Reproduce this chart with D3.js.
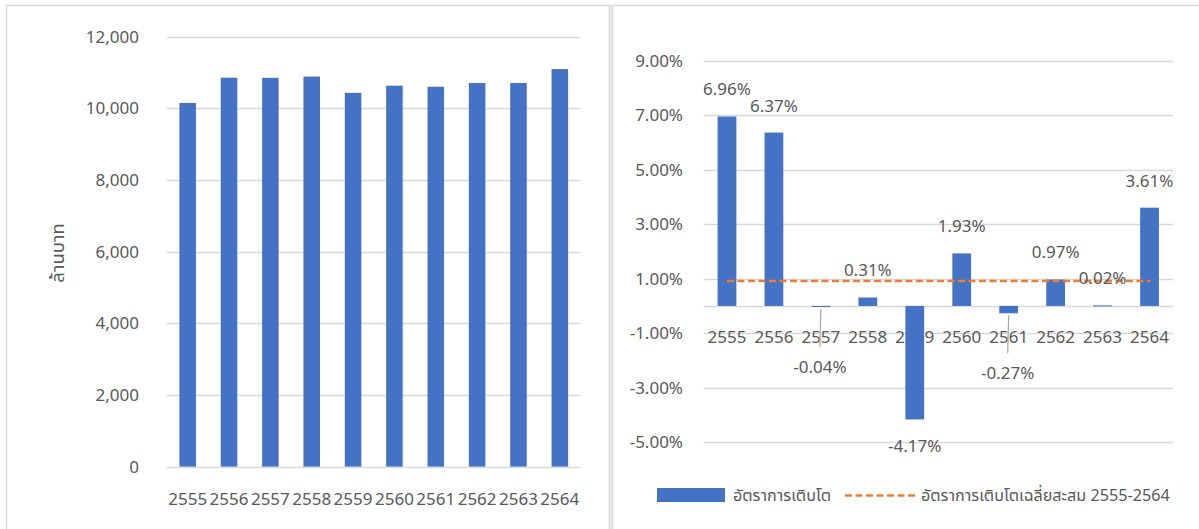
<!DOCTYPE html>
<html>
<head>
<meta charset="utf-8">
<script src="https://cdn.jsdelivr.net/npm/d3@7/dist/d3.min.js"></script>
<style>
  html, body { margin: 0; padding: 0; background: #ffffff; }
  svg { display: block; }
  text { font-family: "Noto Sans Thai", "Liberation Sans", "DejaVu Sans", sans-serif; fill: #595959; }
</style>
</head>
<body>
<svg id="chart" width="1199" height="529"></svg>
<script>
// Fiscal years (Buddhist era)
const years = ["2555", "2556", "2557", "2558", "2559", "2560", "2561", "2562", "2563", "2564"];
// Annual amount, million baht
const amounts = [10150, 10856, 10852, 10886, 10432, 10633, 10604, 10707, 10709, 11096];
// Year-on-year growth, percent
const growth = [6.96, 6.37, -0.04, 0.31, -4.17, 1.93, -0.27, 0.97, 0.02, 3.61];
// Compound average growth 2555-2564, percent
const avgGrowth = 0.92;
// Axis ticks
const amountTicks = [0, 2000, 4000, 6000, 8000, 10000, 12000];
const growthTicks = [-5, -3, -1, 1, 3, 5, 7, 9];
// Labels
const amountAxisTitle = "ล้านบาท";
const legendLabels = ["อัตราการเติบโต", "อัตราการเติบโตเฉลี่ยสะสม 2555-2564"];

const BLUE = "#4472C4", ORANGE = "#ED7D31", GRID = "#D9D9D9", TEXT = "#595959";
const FS = 17;

const svg = d3.select("#chart");

// Panel frames
svg.append("rect").attr("x", 0).attr("y", 0).attr("width", 1199).attr("height", 529).attr("fill", "#fff");
svg.append("rect").attr("x", 610).attr("y", 5).attr("width", 3).attr("height", 524).attr("fill", "#EFEFEF");
svg.append("path")
  .attr("d", "M6.5,529 V5.5 H609.5 V529 M612.5,529 V5.5 H1199")
  .attr("fill", "none").attr("stroke", GRID).attr("stroke-width", 1.5);

// ---------- Left: amounts ----------
const xL = d3.scaleBand().domain(years).range([167, 580.5]).paddingInner(0.6).paddingOuter(0.3);
const yL = d3.scaleLinear().domain([0, 12000]).range([466.6, 36.7]);

const gL = svg.append("g");
gL.append("g").selectAll("line").data(amountTicks).join("line")
  .attr("x1", 167).attr("x2", 580.5)
  .attr("y1", d => Math.round(yL(d)) + 0.5).attr("y2", d => Math.round(yL(d)) + 0.5)
  .attr("stroke", GRID).attr("stroke-width", 1.3);

const axL = gL.append("g").attr("transform", "translate(139,0)")
  .call(d3.axisLeft(yL).tickValues(amountTicks).tickFormat(d3.format(",")).tickSize(0).tickPadding(0));
axL.select(".domain").remove();
axL.selectAll("text").attr("font-size", FS).attr("fill", TEXT).style("font-family", null);

gL.append("g").selectAll("rect").data(years).join("rect")
  .attr("x", d => xL(d)).attr("width", xL.bandwidth())
  .attr("y", (d, i) => yL(amounts[i])).attr("height", (d, i) => yL(0) - yL(amounts[i]))
  .attr("fill", BLUE);

const axLb = gL.append("g").attr("transform", "translate(0,499)")
  .call(d3.axisBottom(xL).tickSize(0).tickPadding(0));
axLb.select(".domain").remove();
axLb.selectAll("text").attr("font-size", FS).attr("fill", TEXT).attr("dy", "0.35em").style("font-family", null);

gL.append("text")
  .attr("transform", "translate(58,253) rotate(-90)")
  .attr("text-anchor", "middle").attr("dy", "0.35em")
  .attr("font-size", 18.5).text(amountAxisTitle);

// ---------- Right: growth ----------
const xR = d3.scaleBand().domain(years).range([703.5, 1173]).paddingInner(0.6).paddingOuter(0.3);
const yR = d3.scaleLinear().domain([-5, 9]).range([442, 61]);

const gR = svg.append("g");
gR.append("g").selectAll("line").data(growthTicks.concat([0])).join("line")
  .attr("x1", 703.5).attr("x2", 1173)
  .attr("y1", d => Math.round(yR(d)) + 0.5).attr("y2", d => Math.round(yR(d)) + 0.5)
  .attr("stroke", GRID).attr("stroke-width", 1.3);

const axR = gR.append("g").attr("transform", "translate(683,0)")
  .call(d3.axisLeft(yR).tickValues(growthTicks).tickFormat(d => d.toFixed(2) + "%").tickSize(0).tickPadding(0));
axR.select(".domain").remove();
axR.selectAll("text").attr("font-size", FS).attr("fill", TEXT).style("font-family", null);

const axRb = gR.append("g").attr("transform", "translate(0,337)")
  .call(d3.axisBottom(xR).tickSize(0).tickPadding(0));
axRb.select(".domain").remove();
axRb.selectAll("text").attr("font-size", FS).attr("fill", TEXT).attr("dy", "0.35em").style("font-family", null);

gR.append("g").selectAll("rect").data(years).join("rect")
  .attr("x", d => xR(d)).attr("width", xR.bandwidth())
  .attr("y", (d, i) => Math.min(yR(growth[i]), yR(0)))
  .attr("height", (d, i) => Math.max(1, Math.abs(yR(growth[i]) - yR(0))))
  .attr("fill", BLUE);

// Average growth line across category centres
const cx = d => xR(d) + xR.bandwidth() / 2;
gR.append("line")
  .attr("x1", cx(years[0])).attr("x2", cx(years[years.length - 1]) + 1)
  .attr("y1", yR(avgGrowth)).attr("y2", yR(avgGrowth))
  .attr("stroke", ORANGE).attr("stroke-width", 2.5).attr("stroke-dasharray", "7,3.5");

// Data labels; small negatives sit below the category labels with a leader line
const labelPos = growth.map((v, i) => {
  const x = cx(years[i]);
  if (v >= 0) return { x, y: yR(v) - 27, leader: false };
  if (v > -1) return { x: x - 1, y: yR(v) + 60, leader: true };
  return { x, y: yR(v) + 27, leader: false };
});

gR.append("g").selectAll("line").data(growth.map((v, i) => i).filter(i => labelPos[i].leader)).join("line")
  .attr("x1", i => cx(years[i])).attr("y1", i => yR(growth[i]) + 2)
  .attr("x2", i => labelPos[i].x).attr("y2", i => labelPos[i].y - 20)
  .attr("stroke", "#A6A6A6").attr("stroke-width", 1.2);

gR.append("g").selectAll("text").data(growth).join("text")
  .attr("x", (d, i) => labelPos[i].x).attr("y", (d, i) => labelPos[i].y)
  .attr("text-anchor", "middle").attr("dy", "0.35em").attr("font-size", FS)
  .text(d => d.toFixed(2) + "%");

// Legend
const lg = svg.append("g");
lg.append("rect").attr("x", 657).attr("y", 488).attr("width", 68).attr("height", 14).attr("fill", BLUE);
lg.append("text").attr("x", 733).attr("y", 495).attr("dy", "0.35em").attr("font-size", 16.2).text(legendLabels[0]);
lg.append("line").attr("x1", 845).attr("x2", 915).attr("y1", 495.5).attr("y2", 495.5)
  .attr("stroke", ORANGE).attr("stroke-width", 2.5).attr("stroke-dasharray", "7,3.5");
lg.append("text").attr("x", 921).attr("y", 495).attr("dy", "0.35em").attr("font-size", 16.2).text(legendLabels[1]);
</script>
</body>
</html>
